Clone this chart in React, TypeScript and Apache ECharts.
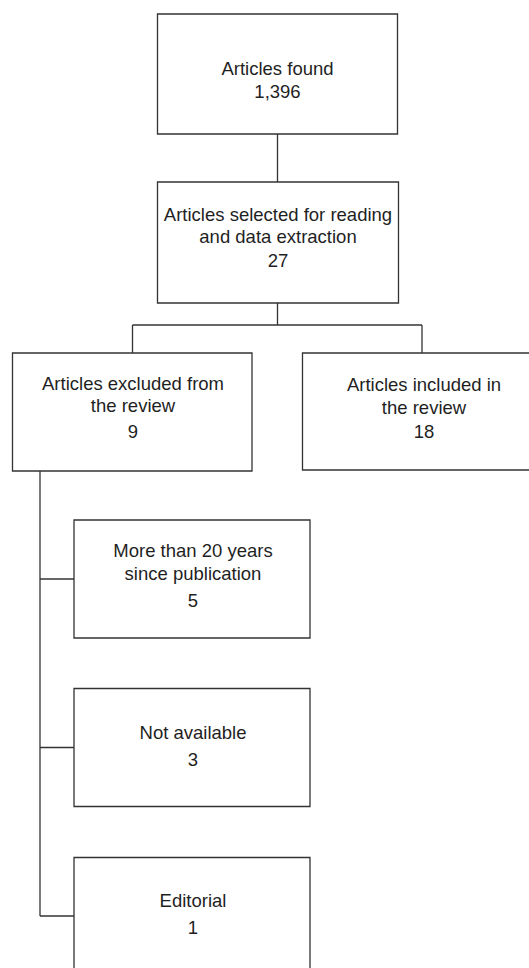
import React, { useEffect, useRef } from "react";
import * as echarts from "echarts";

// ---- Data ----
const boxTitles: string[][] = [
  ["Articles found"],
  ["Articles selected for reading", "and data extraction"],
  ["Articles excluded from", "the review"],
  ["Articles included in", "the review"],
  ["More than 20 years", "since publication"],
  ["Not available"],
  ["Editorial"],
];
const boxCounts: number[] = [1396, 27, 9, 18, 5, 3, 1];

// ---- Layout (positions only) ----
const boxRects = [
  { x: 157.5, y: 14, w: 240, h: 120 },
  { x: 157.5, y: 182, w: 241, h: 121 },
  { x: 12.5, y: 353, w: 239.5, h: 118 },
  { x: 302.5, y: 353, w: 243, h: 117 },
  { x: 74, y: 520, w: 236, h: 118 },
  { x: 74, y: 688.5, w: 236, h: 118 },
  { x: 74, y: 857.5, w: 236, h: 118 },
];
const textCenters = [
  { cx: 277.5, lines: [68], num: 91 },
  { cx: 278, lines: [214, 236], num: 260 },
  { cx: 133, lines: [383, 405.7], num: 431.7 },
  { cx: 424, lines: [384, 407.7], num: 431.7 },
  { cx: 193, lines: [550, 573.3], num: 600.7 },
  { cx: 193, lines: [732.3], num: 759 },
  { cx: 193, lines: [900], num: 927.7 },
];
const connectors: number[][] = [
  [277.5, 134, 277.5, 182],
  [277.5, 303, 277.5, 325],
  [132.5, 325, 422, 325],
  [132.5, 325, 132.5, 353],
  [422, 325, 422, 353],
  [40, 471, 40, 916],
  [40, 579, 74, 579],
  [40, 747.5, 74, 747.5],
  [40, 916, 74, 916],
];

const LINE = "#333333";
const TEXT = "#1f1f1f";
const FONT = "Liberation Sans, Arial, sans-serif";
const FS = 18.5;

export default function App() {
  const ref = useRef<HTMLDivElement>(null);
  useEffect(() => {
    if (!ref.current) return;
    const chart = echarts.init(ref.current, null, { renderer: "svg" });
    const elements: any[] = [];
    boxRects.forEach((r) => {
      elements.push({
        type: "rect",
        shape: { x: r.x, y: r.y, width: r.w, height: r.h },
        style: { fill: "#ffffff", stroke: LINE, lineWidth: 1.3 },
      });
    });
    connectors.forEach((c) => {
      elements.push({
        type: "line",
        shape: { x1: c[0], y1: c[1], x2: c[2], y2: c[3] },
        style: { stroke: LINE, lineWidth: 1.3 },
      });
    });
    textCenters.forEach((t, i) => {
      boxTitles[i].forEach((line, j) => {
        elements.push({
          type: "text",
          x: t.cx,
          y: t.lines[j],
          style: {
            text: line,
            fill: TEXT,
            fontSize: FS,
            fontFamily: FONT,
            align: "center",
            verticalAlign: "middle",
          },
        });
      });
      elements.push({
        type: "text",
        x: t.cx,
        y: t.num,
        style: {
          text: boxCounts[i].toLocaleString("en-US"),
          fill: TEXT,
          fontSize: FS,
          fontFamily: FONT,
          align: "center",
          verticalAlign: "middle",
        },
      });
    });
    chart.setOption({
      animation: false,
      backgroundColor: "#ffffff",
      graphic: { elements },
    });
    return () => chart.dispose();
  }, []);
  return (
    <div
      ref={ref}
      style={{ position: "absolute", left: 0, top: 0, width: 529, height: 968 }}
    />
  );
}
